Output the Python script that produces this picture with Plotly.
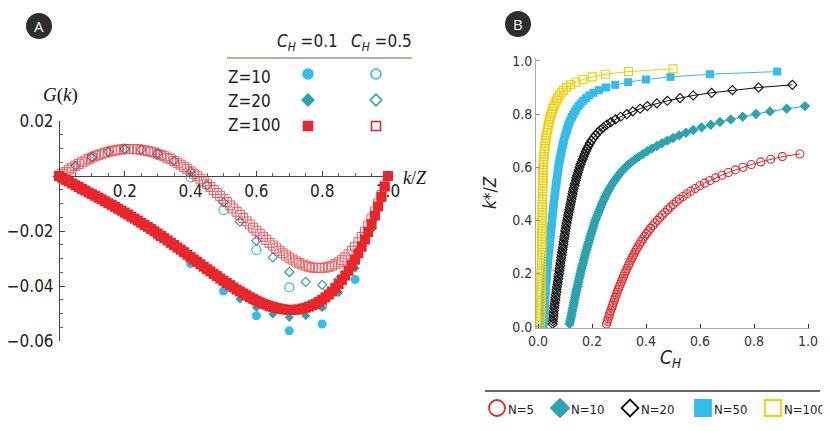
import plotly.graph_objects as go

# ---- panel A : G(k) against k/Z ----
# Z=100, C_H=0.1 (filled squares) and C_H=0.5 (open squares), k = 0..100
g_z100_ch01 = [
    0.0000, -0.0007, -0.0014, -0.0020, -0.0027, -0.0034, -0.0040, -0.0047, -0.0053, -0.0060,
    -0.0066, -0.0072, -0.0079, -0.0085, -0.0092, -0.0099, -0.0105, -0.0112, -0.0119, -0.0126,
    -0.0133, -0.0140, -0.0148, -0.0155, -0.0162, -0.0170, -0.0178, -0.0185, -0.0193, -0.0201,
    -0.0209, -0.0218, -0.0226, -0.0234, -0.0243, -0.0251, -0.0260, -0.0268, -0.0277, -0.0286,
    -0.0295, -0.0304, -0.0312, -0.0321, -0.0330, -0.0339, -0.0347, -0.0356, -0.0364, -0.0373,
    -0.0381, -0.0389, -0.0397, -0.0405, -0.0413, -0.0420, -0.0427, -0.0434, -0.0441, -0.0447,
    -0.0453, -0.0459, -0.0464, -0.0468, -0.0473, -0.0476, -0.0480, -0.0482, -0.0484, -0.0486,
    -0.0487, -0.0487, -0.0486, -0.0485, -0.0482, -0.0479, -0.0475, -0.0470, -0.0465, -0.0458,
    -0.0450, -0.0441, -0.0431, -0.0420, -0.0407, -0.0393, -0.0378, -0.0362, -0.0344, -0.0324,
    -0.0304, -0.0281, -0.0257, -0.0231, -0.0204, -0.0175, -0.0144, -0.0111, -0.0076, -0.0039,
    0.0000,
]
g_z100_ch05 = [
    0.0000, 0.0008, 0.0015, 0.0023, 0.0030, 0.0037, 0.0044, 0.0050, 0.0056, 0.0062,
    0.0067, 0.0072, 0.0077, 0.0081, 0.0085, 0.0088, 0.0091, 0.0093, 0.0095, 0.0097,
    0.0098, 0.0098, 0.0098, 0.0098, 0.0097, 0.0095, 0.0093, 0.0091, 0.0088, 0.0085,
    0.0081, 0.0076, 0.0072, 0.0066, 0.0061, 0.0054, 0.0048, 0.0041, 0.0033, 0.0025,
    0.0017, 0.0008, -0.0001, -0.0010, -0.0020, -0.0030, -0.0040, -0.0051, -0.0062, -0.0073,
    -0.0084, -0.0095, -0.0107, -0.0118, -0.0130, -0.0141, -0.0153, -0.0165, -0.0176, -0.0188,
    -0.0199, -0.0210, -0.0221, -0.0232, -0.0243, -0.0253, -0.0263, -0.0272, -0.0281, -0.0289,
    -0.0297, -0.0304, -0.0311, -0.0317, -0.0322, -0.0326, -0.0330, -0.0333, -0.0334, -0.0335,
    -0.0334, -0.0333, -0.0330, -0.0326, -0.0321, -0.0314, -0.0306, -0.0296, -0.0285, -0.0272,
    -0.0257, -0.0241, -0.0222, -0.0202, -0.0180, -0.0155, -0.0129, -0.0100, -0.0069, -0.0036,
    0.0000,
]
# Z=20, k = 0..20
g_z20_ch01 = [0.0, -0.0034, -0.0066, -0.0099, -0.0134, -0.0170, -0.0210, -0.0253, -0.0298, -0.0342,
              -0.0388, -0.0447, -0.0478, -0.0502, -0.0514, -0.0508, -0.0478, -0.0424, -0.0335, -0.0192, 0.0]
g_z20_ch05 = [0.0, 0.0037, 0.0068, 0.0088, 0.0098, 0.0096, 0.0082, 0.0055, 0.0016, -0.0033,
              -0.0095, -0.0166, -0.0235, -0.0296, -0.0349, -0.0385, -0.0396, -0.0376, -0.0309, -0.0190, 0.0]
# Z=10, k = 0..10
g_z10_ch01 = [0.0, -0.0068, -0.0140, -0.0220, -0.0318, -0.0418, -0.0508, -0.0563, -0.0538, -0.0376, 0.0]
g_z10_ch05 = [0.0, 0.0070, 0.0100, 0.0080, -0.0005, -0.0124, -0.0269, -0.0405, -0.0472, -0.0310, 0.0]

kz_100 = [k / 100 for k in range(101)]
kz_20 = [k / 20 for k in range(21)]
kz_10 = [k / 10 for k in range(11)]

# ---- panel B : C_H needed for k*/Z = 0.01, 0.02, ... ----
ch_n5 = [
    0.254, 0.257, 0.260, 0.263, 0.266, 0.269, 0.273, 0.276, 0.279, 0.283,
    0.286, 0.290, 0.293, 0.297, 0.301, 0.305, 0.309, 0.313, 0.317, 0.321,
    0.326, 0.330, 0.335, 0.339, 0.344, 0.349, 0.354, 0.359, 0.364, 0.370,
    0.376, 0.382, 0.388, 0.395, 0.402, 0.409, 0.417, 0.425, 0.433, 0.442,
    0.451, 0.460, 0.470, 0.480, 0.490, 0.501, 0.512, 0.524, 0.537, 0.551,
    0.566, 0.582, 0.599, 0.617, 0.637, 0.658, 0.681, 0.705, 0.731, 0.759,
    0.790, 0.825, 0.862, 0.905, 0.970,
]
ch_n10 = [
    0.117, 0.119, 0.121, 0.123, 0.125, 0.127, 0.129, 0.131, 0.133, 0.135,
    0.137, 0.139, 0.141, 0.143, 0.146, 0.148, 0.150, 0.152, 0.155, 0.157,
    0.159, 0.162, 0.164, 0.167, 0.169, 0.172, 0.174, 0.177, 0.180, 0.182,
    0.185, 0.188, 0.191, 0.194, 0.197, 0.200, 0.203, 0.206, 0.209, 0.212,
    0.216, 0.220, 0.224, 0.228, 0.232, 0.236, 0.240, 0.245, 0.249, 0.254,
    0.259, 0.265, 0.271, 0.277, 0.284, 0.291, 0.298, 0.306, 0.315, 0.324,
    0.335, 0.347, 0.360, 0.374, 0.389, 0.405, 0.422, 0.440, 0.459, 0.479,
    0.500, 0.523, 0.548, 0.575, 0.606, 0.640, 0.674, 0.714, 0.758, 0.807,
    0.859, 0.921, 0.989,
]
ch_n20 = [
    0.054, 0.055, 0.056, 0.057, 0.058, 0.059, 0.060, 0.061, 0.062, 0.064,
    0.065, 0.066, 0.068, 0.069, 0.070, 0.072, 0.073, 0.075, 0.076, 0.078,
    0.079, 0.080, 0.082, 0.083, 0.085, 0.086, 0.088, 0.089, 0.091, 0.092,
    0.094, 0.095, 0.097, 0.098, 0.100, 0.101, 0.103, 0.104, 0.106, 0.108,
    0.110, 0.112, 0.114, 0.116, 0.118, 0.120, 0.122, 0.124, 0.126, 0.128,
    0.130, 0.132, 0.135, 0.137, 0.140, 0.142, 0.145, 0.148, 0.151, 0.154,
    0.157, 0.161, 0.165, 0.169, 0.173, 0.177, 0.182, 0.187, 0.192, 0.198,
    0.205, 0.213, 0.221, 0.231, 0.242, 0.255, 0.270, 0.287, 0.306, 0.329,
    0.351, 0.378, 0.405, 0.440, 0.479, 0.526, 0.575, 0.643, 0.720, 0.817,
    0.942,
]
ch_n50 = [
    0.022, 0.022, 0.023, 0.023, 0.024, 0.024, 0.025, 0.025, 0.026, 0.026,
    0.027, 0.027, 0.028, 0.028, 0.029, 0.030, 0.031, 0.032, 0.032, 0.033,
    0.034, 0.035, 0.036, 0.036, 0.037, 0.038, 0.039, 0.040, 0.041, 0.042,
    0.043, 0.044, 0.045, 0.046, 0.047, 0.048, 0.049, 0.050, 0.051, 0.052,
    0.053, 0.054, 0.055, 0.056, 0.057, 0.058, 0.059, 0.060, 0.062, 0.063,
    0.064, 0.065, 0.067, 0.068, 0.069, 0.070, 0.072, 0.073, 0.074, 0.076,
    0.077, 0.079, 0.081, 0.083, 0.085, 0.087, 0.089, 0.091, 0.093, 0.096,
    0.098, 0.101, 0.104, 0.107, 0.110, 0.113, 0.117, 0.121, 0.126, 0.131,
    0.137, 0.143, 0.150, 0.158, 0.167, 0.178, 0.190, 0.205, 0.226, 0.252,
    0.286, 0.334, 0.400, 0.491, 0.637, 0.886,
]
ch_n100 = [
    0.009, 0.009, 0.009, 0.010, 0.010, 0.010, 0.010, 0.010, 0.011, 0.011,
    0.011, 0.011, 0.011, 0.011, 0.012, 0.012, 0.012, 0.012, 0.012, 0.012,
    0.012, 0.013, 0.013, 0.013, 0.013, 0.013, 0.013, 0.014, 0.014, 0.014,
    0.014, 0.014, 0.014, 0.014, 0.015, 0.015, 0.015, 0.015, 0.015, 0.015,
    0.015, 0.016, 0.016, 0.016, 0.016, 0.016, 0.016, 0.017, 0.017, 0.017,
    0.017, 0.017, 0.017, 0.018, 0.018, 0.018, 0.018, 0.018, 0.019, 0.019,
    0.020, 0.020, 0.021, 0.022, 0.023, 0.024, 0.025, 0.026, 0.027, 0.028,
    0.030, 0.031, 0.033, 0.035, 0.037, 0.039, 0.041, 0.044, 0.046, 0.049,
    0.052, 0.055, 0.059, 0.063, 0.068, 0.073, 0.079, 0.086, 0.095, 0.106,
    0.121, 0.141, 0.166, 0.201, 0.250, 0.335, 0.500,
]


def kstar_grid(values):
    return [k / 100 for k in range(1, len(values) + 1)]


RED = "#e8262b"
CYAN = "#33bdeb"
TEAL = "#2ba3b1"
YELLOW = "#f2cf00"
BLACK = "#111111"
NARROW = "DejaVu Sans Condensed, Liberation Sans Narrow, Roboto, sans-serif"
SERIF = "Liberation Serif, DejaVu Serif, serif"

# the page body has an 8px margin, so the figure covers window pixels 8..830 / 8..431
OX, OY = 8, 8
W, H = 830 - OX, 431 - OY


def fx(p):
    return (p - OX) / W


def fy(p):
    return 1 - (p - OY) / H


fig = go.Figure()

# panel A points (small Z first, Z=100 on top)
panel_a = [
    (kz_10, g_z10_ch05, "circle-open", CYAN, 9, 1.2, 1.0),
    (kz_10, g_z10_ch01, "circle", CYAN, 9, 0, 1.0),
    (kz_20, g_z20_ch05, "diamond-open", TEAL, 7, 1.2, 1.0),
    (kz_20, g_z20_ch01, "diamond", TEAL, 7, 0, 1.0),
    (kz_100, g_z100_ch01, "square", RED, 10, 0, 1.0),
    (kz_100, g_z100_ch05, "square-open", RED, 9, 1.0, 0.75),
]
for xs, ys, sym, col, size, lw, op in panel_a:
    fig.add_trace(go.Scatter(
        x=xs, y=ys, mode="markers", xaxis="x", yaxis="y",
        marker=dict(symbol=sym, color=col, size=size, line=dict(width=lw, color=col)),
        opacity=op, cliponaxis=False, showlegend=False, hoverinfo="skip",
    ))

# panel B curves
panel_b = [
    (ch_n5, "circle-open", RED, 8, 1.1),
    (ch_n10, "diamond", TEAL, 8, 0),
    (ch_n20, "diamond-open", BLACK, 7, 1.1),
    (ch_n50, "square", CYAN, 8, 0),
    (ch_n100, "square-open", YELLOW, 8, 1.1),
]
for xs, sym, col, size, lw in panel_b:
    fig.add_trace(go.Scatter(
        x=xs, y=kstar_grid(xs), mode="lines+markers", xaxis="x2", yaxis="y2",
        line=dict(color=col, width=1),
        marker=dict(symbol=sym, color=col, size=size, line=dict(width=lw, color=col)),
        cliponaxis=False, showlegend=False, hoverinfo="skip",
    ))

# legend glyphs, drawn on an overlay in window pixel units
leg_a = [
    (308, 74, "circle", CYAN, 10), (376, 74, "circle-open", CYAN, 10),
    (308, 100, "diamond", TEAL, 9), (376, 100, "diamond-open", TEAL, 9),
    (308, 126, "square", RED, 9), (376, 126, "square-open", RED, 9),
]
for x, y, sym, col, size in leg_a:
    fig.add_trace(go.Scatter(
        x=[x], y=[y], mode="markers", xaxis="x3", yaxis="y3",
        marker=dict(symbol=sym, color=col, size=size, line=dict(width=1.6, color=col)),
        showlegend=False, hoverinfo="skip",
    ))

leg_b = [
    (497, "circle-open", RED, 16, "N=5"),
    (560, "diamond", TEAL, 14, "N=10"),
    (630, "diamond-open", BLACK, 13, "N=20"),
    (703, "square", CYAN, 16, "N=50"),
    (773, "square-open", YELLOW, 16, "N=100"),
]
for x, sym, col, size, label in leg_b:
    fig.add_trace(go.Scatter(
        x=[x], y=[408], mode="markers", xaxis="x3", yaxis="y3",
        marker=dict(symbol=sym, color=col, size=size, line=dict(width=1.8, color=col)),
        showlegend=False, hoverinfo="skip",
    ))

annotations = []


def note(x, y, text, size, family=NARROW, color="#222", xanchor="center", angle=0):
    annotations.append(dict(
        x=x, y=y, xref="x3", yref="y3", text=text, showarrow=False,
        xanchor=xanchor, yanchor="middle", textangle=angle, borderpad=0,
        font=dict(family=family, size=size, color=color),
    ))


note(39, 26, "A", 15, family="Open Sans, sans-serif", color="white")
note(518, 24, "B", 15, family="Open Sans, sans-serif", color="white")
note(60, 95, "<i>G</i>(<i>k</i>)", 19, family=SERIF, color="#111")
note(415, 178, "<i>k</i>/<i>Z</i>", 18, family=SERIF, color="#111")
note(307, 42, "<i>C<sub>H</sub></i> =0.1", 17)
note(381, 42, "<i>C<sub>H</sub></i> =0.5", 17)
note(227, 77, "Z=10", 17, xanchor="left")
note(227, 101, "Z=20", 17, xanchor="left")
note(227, 125, "Z=100", 17, xanchor="left")
note(490, 193, "<i>k</i>*/<i>Z</i>", 17, angle=-90)
note(670, 358, "<i>C<sub>H</sub></i>", 19)
for x, sym, col, size, label in leg_b:
    note(x + 10, 409, label, 13, xanchor="left")

shapes = [
    dict(type="circle", xref="x3", yref="y3", x0=26, x1=52, y0=13, y1=39,
         fillcolor="#2e2e2e", line=dict(width=0), layer="below"),
    dict(type="circle", xref="x3", yref="y3", x0=505, x1=531, y0=11, y1=37,
         fillcolor="#2e2e2e", line=dict(width=0), layer="below"),
    dict(type="line", xref="x3", yref="y3", x0=227, x1=412, y0=58, y1=58,
         line=dict(color="#b8b0a2", width=2)),
    dict(type="line", xref="x3", yref="y3", x0=485, x1=820, y0=391, y1=391,
         line=dict(color="#333", width=1.5)),
]

fig.update_layout(
    template="none",
    width=W, height=H,
    margin=dict(l=0, r=0, t=0, b=0, autoexpand=False),
    paper_bgcolor="white", plot_bgcolor="rgba(0,0,0,0)",
    showlegend=False,
    annotations=annotations,
    shapes=shapes,
    # panel A, Mathematica-style crossing axes
    xaxis=dict(
        domain=[fx(53), fx(391)], range=[-0.0182, 1.0091],
        anchor="free", position=fy(176), automargin=False,
        showgrid=False, zeroline=False, showline=True, linecolor="#444", linewidth=1,
        tickmode="array", tickvals=[0.2, 0.4, 0.6, 0.8, 1.0],
        ticktext=["0.2", "0.4", "0.6", "0.8", "1.0"],
        ticks="inside", ticklen=5, tickcolor="#444",
        minor=dict(tickmode="array", tickvals=[i * 0.05 for i in range(1, 20)],
                   ticks="inside", ticklen=3, tickcolor="#666", showgrid=False),
        tickfont=dict(family=NARROW, size=17, color="#222"),
        layer="below traces",
    ),
    yaxis=dict(
        domain=[fy(341), fy(121)], range=[-0.06, 0.02],
        anchor="free", position=fx(59), automargin=False,
        showgrid=False, zeroline=False, showline=True, linecolor="#444", linewidth=1,
        tickmode="array", tickvals=[-0.06, -0.04, -0.02, 0.02],
        ticktext=["\u22120.06", "\u22120.04", "\u22120.02", "0.02"],
        ticks="inside", ticklen=5, tickcolor="#444", ticklabelstandoff=2,
        minor=dict(tickmode="array", tickvals=[-0.06 + i * 0.005 for i in range(17)],
                   ticks="inside", ticklen=3, tickcolor="#666", showgrid=False),
        tickfont=dict(family=NARROW, size=17, color="#222"),
        layer="below traces",
    ),
    # panel B
    xaxis2=dict(
        domain=[fx(536), fx(810)], range=[-0.0074, 1.0074], anchor="y2", automargin=False,
        showgrid=False, zeroline=False, showline=True, linecolor="#aaa", linewidth=1,
        tickmode="array", tickvals=[0, 0.2, 0.4, 0.6, 0.8, 1.0],
        ticktext=["0.0", "0.2", "0.4", "0.6", "0.8", "1.0"],
        ticks="inside", ticklen=4, tickcolor="#333",
        tickfont=dict(family=NARROW, size=14, color="#333"),
    ),
    yaxis2=dict(
        domain=[fy(328), fy(58)], range=[-0.005, 1.011], anchor="x2", automargin=False,
        showgrid=False, zeroline=False, showline=True, linecolor="#aaa", linewidth=1,
        tickmode="array", tickvals=[0, 0.2, 0.4, 0.6, 0.8, 1.0],
        ticktext=["0.0", "0.2", "0.4", "0.6", "0.8", "1.0"],
        ticks="inside", ticklen=4, tickcolor="#999",
        tickfont=dict(family=NARROW, size=14, color="#333"),
    ),
    # overlay in window pixel units for legends and labels
    xaxis3=dict(domain=[0, 1], range=[OX, OX + W], visible=False, anchor="y3", automargin=False),
    yaxis3=dict(domain=[0, 1], range=[OY + H, OY], visible=False, anchor="x3", automargin=False),
)

fig.write_html("out.html")
